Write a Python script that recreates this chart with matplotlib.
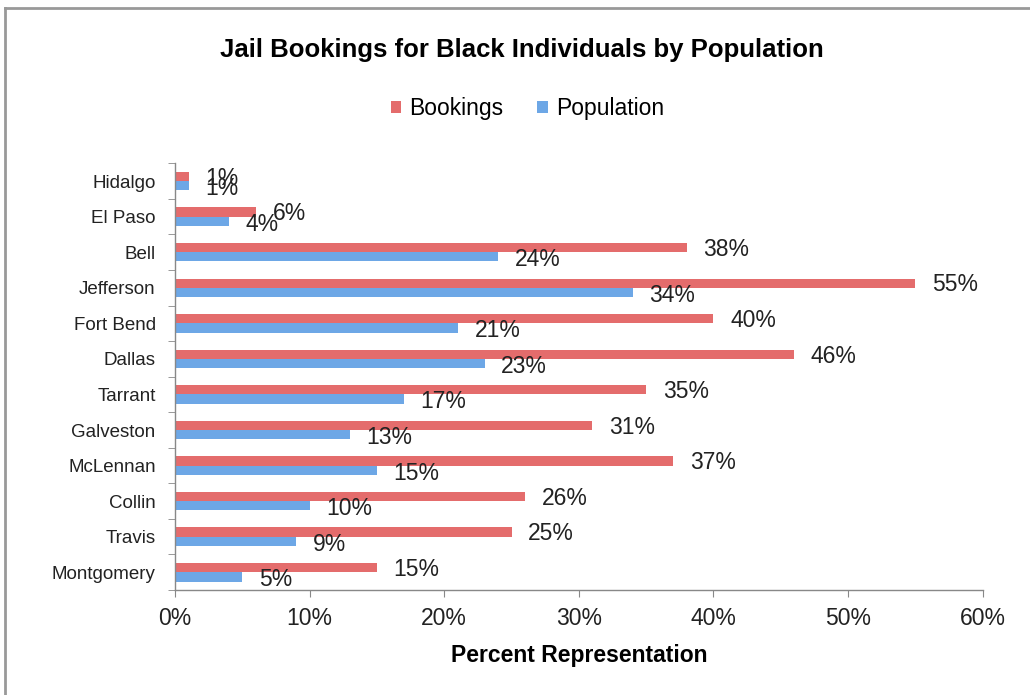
import matplotlib
matplotlib.use("Agg")
import matplotlib.pyplot as plt
import numpy as np

counties = ["Hidalgo", "El Paso", "Bell", "Jefferson", "Fort Bend", "Dallas",
            "Tarrant", "Galveston", "McLennan", "Collin", "Travis", "Montgomery"]
bookings = [1, 6, 38, 55, 40, 46, 35, 31, 37, 26, 25, 15]
population = [1, 4, 24, 34, 21, 23, 17, 13, 15, 10, 9, 5]
xticks = [0, 10, 20, 30, 40, 50, 60]

plt.rcParams['font.family'] = ['Liberation Sans', 'DejaVu Sans']

fig = plt.figure(figsize=(10.3, 6.95), dpi=100)
ax = fig.add_axes([0.170, 0.151, 0.784, 0.614])

red = "#E46C6C"
blue = "#6DA7E6"
txt = "#222222"
n = len(counties)
y = np.arange(n)
h = 0.26
ax.barh(y - h / 2, bookings, height=h, color=red, label="Bookings")
ax.barh(y + h / 2, population, height=h, color=blue, label="Population")

for yi, v in zip(y, bookings):
    ax.annotate(f"{v}%", (v, yi - h / 2 + 0.05), xytext=(12, 0), textcoords="offset points",
                va="center", ha="left", fontsize=16.5, color=txt)
for yi, v in zip(y, population):
    ax.annotate(f"{v}%", (v, yi + h / 2 + 0.08), xytext=(12, 0), textcoords="offset points",
                va="center", ha="left", fontsize=16.5, color=txt)

ax.set_ylim(n - 0.5, -0.5)
ax.set_xlim(0, 60)
ax.set_xticks(xticks)
ax.set_xticklabels([f"{t}%" for t in xticks], fontsize=16.5, color=txt)
ax.set_yticks(y)
ax.set_yticklabels(counties, fontsize=13.5, color=txt)
ax.tick_params(axis="y", length=0, pad=14)
ax.set_yticks(np.arange(-0.5, n, 1), minor=True)
ax.tick_params(axis="y", which="minor", length=5, color="#888888")
ax.tick_params(axis="x", length=5, color="#888888", pad=7)

for s in ["top", "right"]:
    ax.spines[s].set_visible(False)
for s in ["left", "bottom"]:
    ax.spines[s].set_color("#888888")
    ax.spines[s].set_linewidth(1.0)

ax.set_xlabel("Percent Representation", fontsize=16.5, fontweight="bold", labelpad=10)

fig.text(0.507, 0.928, "Jail Bookings for Black Individuals by Population",
         ha="center", va="center", fontsize=18.5, fontweight="bold")

ax.legend(loc="center", bbox_to_anchor=(0.436, 1.0 + 55 / 427),
          ncol=2, frameon=False, fontsize=16.5, handlelength=0.45, handleheight=0.45,
          handletextpad=0.35, columnspacing=1.5)

# figure border (top and left)
fig.add_artist(plt.Line2D([5 / 1030, 1], [1 - 8 / 695, 1 - 8 / 695], color="#999999", lw=2))
fig.add_artist(plt.Line2D([5 / 1030, 5 / 1030], [0, 1 - 8 / 695], color="#999999", lw=2))

fig.savefig("out.png", dpi=100)
